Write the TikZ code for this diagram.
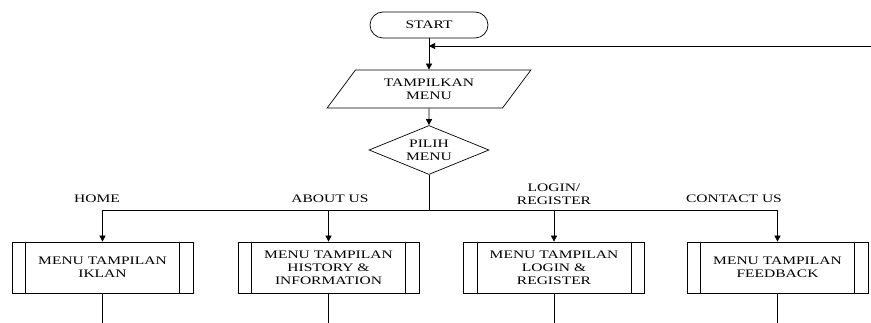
\documentclass[tikz,border=0pt]{standalone}
\usepackage{fontspec}
\usetikzlibrary{shapes.geometric,arrows.meta}
\newfontfamily\flowfont[FakeStretch=1.35]{Liberation Serif}
\tikzstyle{startstop} = [draw, rectangle, rounded corners=13pt, minimum width=118pt, minimum height=26pt, inner sep=0pt]
\tikzstyle{io} = [draw, trapezium, trapezium left angle=50, trapezium right angle=130, trapezium stretches=true, minimum width=204pt, minimum height=38pt, inner sep=0pt, align=center]
\tikzstyle{decision} = [draw, diamond, aspect=2.45, minimum width=120pt, minimum height=49pt, inner sep=0pt, align=center]
\tikzstyle{process} = [draw, rectangle, minimum width=181pt, minimum height=51pt, inner sep=0pt, align=center]
\tikzstyle{choice} = [align=center, inner sep=0pt]
\tikzstyle{flow} = [-{Triangle[length=6pt,width=6pt]}]

\begin{document}
\begin{tikzpicture}[x=1pt, y=-1pt, line width=0.7pt, font=\flowfont\fontsize{11.5}{13}\selectfont]
\useasboundingbox (0,0) rectangle (871,323);
% flow top
\node[startstop] (start) at (429,25) {START};
\node[io] (menu) at (429,89) {TAMPILKAN\\MENU};
\node[decision] (pilih) at (429,150) {PILIH\\MENU};
\coordinate (join) at (429,46);
\coordinate (back) at (871,46);
\coordinate (bus) at (429,210);

% menu pages
\node[process] (iklan) at (102.5,267.5) {MENU TAMPILAN\\IKLAN};
\node[process] (history) at (328.5,267.5) {MENU TAMPILAN\\HISTORY \&\\INFORMATION};
\node[process] (login) at (554,267.5) {MENU TAMPILAN\\LOGIN \&\\REGISTER};
\node[process] (feedback) at (777.5,267.5) {MENU TAMPILAN\\FEEDBACK};

% choices
\node[choice] (home) at (97,199) {HOME};
\node[choice] (about) at (330,199) {ABOUT US};
\node[choice] (reg) at (554,194) {LOGIN/\\REGISTER};
\node[choice] (contact) at (734,199) {CONTACT US};

\draw[flow] (start) -- (menu);
\draw[flow] (back) -- (join);
\draw[flow] (menu) -- (pilih);
\draw (pilih) -- (bus);
\foreach \b in {iklan,history,login,feedback}{
  \draw[flow] (bus) -| (\b.north);
  \draw ([xshift=14pt]\b.north west) -- ([xshift=14pt]\b.south west);
  \draw ([xshift=-14pt]\b.north east) -- ([xshift=-14pt]\b.south east);
  \draw (\b.south) -- (\b.south |- 0,323);
}
\end{tikzpicture}
\end{document}
